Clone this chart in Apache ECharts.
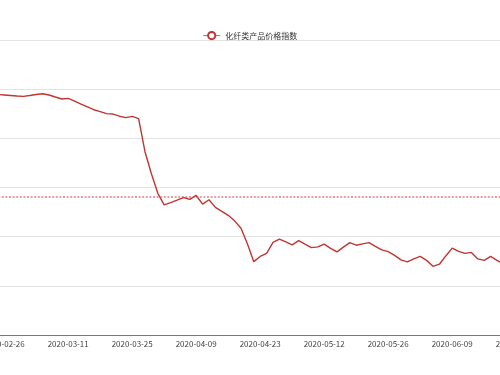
<!DOCTYPE html>
<html>
<head>
<meta charset="utf-8">
<script src="https://cdn.jsdelivr.net/npm/echarts@6/dist/echarts.min.js"></script>
<style>
html,body{margin:0;padding:0;background:#fff;}
#chart{width:500px;height:375px;}
</style>
</head>
<body>
<div id="chart"></div>
<script>
const seriesName = '化纤类产品价格指数';
const dates = [
  '2020-02-25','2020-02-26','2020-02-27','2020-02-28',
  '2020-03-02','2020-03-03','2020-03-04','2020-03-05','2020-03-06','2020-03-09','2020-03-10','2020-03-11','2020-03-12','2020-03-13',
  '2020-03-16','2020-03-17','2020-03-18','2020-03-19','2020-03-20','2020-03-23','2020-03-24','2020-03-25','2020-03-26','2020-03-27',
  '2020-03-30','2020-03-31','2020-04-01','2020-04-02','2020-04-03','2020-04-07','2020-04-08','2020-04-09','2020-04-10',
  '2020-04-13','2020-04-14','2020-04-15','2020-04-16','2020-04-17','2020-04-20','2020-04-21','2020-04-22','2020-04-23','2020-04-24',
  '2020-04-27','2020-04-28','2020-04-29','2020-04-30','2020-05-06','2020-05-07','2020-05-08','2020-05-11','2020-05-12','2020-05-13',
  '2020-05-14','2020-05-15','2020-05-18','2020-05-19','2020-05-20','2020-05-21','2020-05-22','2020-05-25','2020-05-26','2020-05-27',
  '2020-05-28','2020-05-29','2020-06-01','2020-06-02','2020-06-03','2020-06-04','2020-06-05','2020-06-08','2020-06-09','2020-06-10',
  '2020-06-11','2020-06-12','2020-06-15','2020-06-16','2020-06-17','2020-06-18','2020-06-19','2020-06-22','2020-06-23'
];
const priceIndex = [
  94.46, 94.41, 94.36, 94.31, 94.27, 94.36, 94.46, 94.54, 94.41, 94.20,
  94.00, 94.06, 93.78, 93.47, 93.19, 92.91, 92.71, 92.51, 92.47, 92.25,
  92.10, 92.23, 92.00, 88.64, 86.40, 84.41, 83.24, 83.47, 83.72, 83.98,
  83.80, 84.19, 83.31, 83.75, 82.98, 82.58, 82.17, 81.61, 80.85, 79.27,
  77.46, 77.99, 78.30, 79.42, 79.75, 79.47, 79.16, 79.60, 79.24, 78.89,
  78.96, 79.24, 78.81, 78.45, 78.93, 79.40, 79.13, 79.27, 79.40, 79.01,
  78.66, 78.48, 78.10, 77.64, 77.43, 77.74, 77.99, 77.59, 76.98, 77.20,
  78.04, 78.83, 78.50, 78.30, 78.40, 77.74, 77.59, 77.99, 77.59, 77.23,
  null, null
];
const averageLine = [84.05];
const yTicks = [70, 75, 80, 85, 90, 95, 100];

const showEveryTenth = function (index) { return (index - 1) % 10 === 0; };
const font = '"Noto Sans CJK SC", "Noto Sans", sans-serif';
const markStyle = {color: '#d9535a', type: [2, 1.6], width: 1.5, opacity: 0.75};

const chart = echarts.init(document.getElementById('chart'), null, {renderer: 'canvas'});
chart.setOption({
  animation: false,
  backgroundColor: '#fff',
  textStyle: {fontFamily: font},
  legend: {
    top: 26,
    left: 'center',
    itemWidth: 17,
    itemHeight: 9,
    itemStyle: {borderWidth: 0.8},
    lineStyle: {width: 0.8},
    textStyle: {fontSize: 8, color: '#333', fontFamily: font},
    data: [seriesName]
  },
  grid: {
    left: -5.4,
    right: -19.4,
    top: 40,
    bottom: 40,
    containLabel: false,
    outerBoundsMode: 'none'
  },
  xAxis: {
    type: 'category',
    data: dates,
    boundaryGap: true,
    axisLine: {lineStyle: {color: '#777', width: 1}},
    axisTick: {length: 3, interval: showEveryTenth, lineStyle: {color: '#777'}},
    axisLabel: {interval: showEveryTenth, fontSize: 8, color: '#444', margin: 5, fontFamily: font},
    splitLine: {show: false}
  },
  yAxis: {
    type: 'value',
    min: yTicks[0],
    max: yTicks[yTicks.length - 1],
    interval: yTicks[1] - yTicks[0],
    axisLine: {show: false},
    axisTick: {show: false},
    axisLabel: {show: false},
    splitLine: {lineStyle: {color: '#e3e3e3', width: 1}}
  },
  series: [{
    name: seriesName,
    type: 'line',
    data: priceIndex,
    symbol: 'emptyCircle',
    symbolSize: 6,
    showSymbol: false,
    itemStyle: {color: '#c23531'},
    lineStyle: {color: '#c23531', width: 1.4},
    markLine: {
      silent: true,
      symbol: ['none', 'none'],
      label: {show: false},
      lineStyle: markStyle,
      data: averageLine.map(function (v) { return {yAxis: v}; })
    }
  }]
});
</script>
</body>
</html>
